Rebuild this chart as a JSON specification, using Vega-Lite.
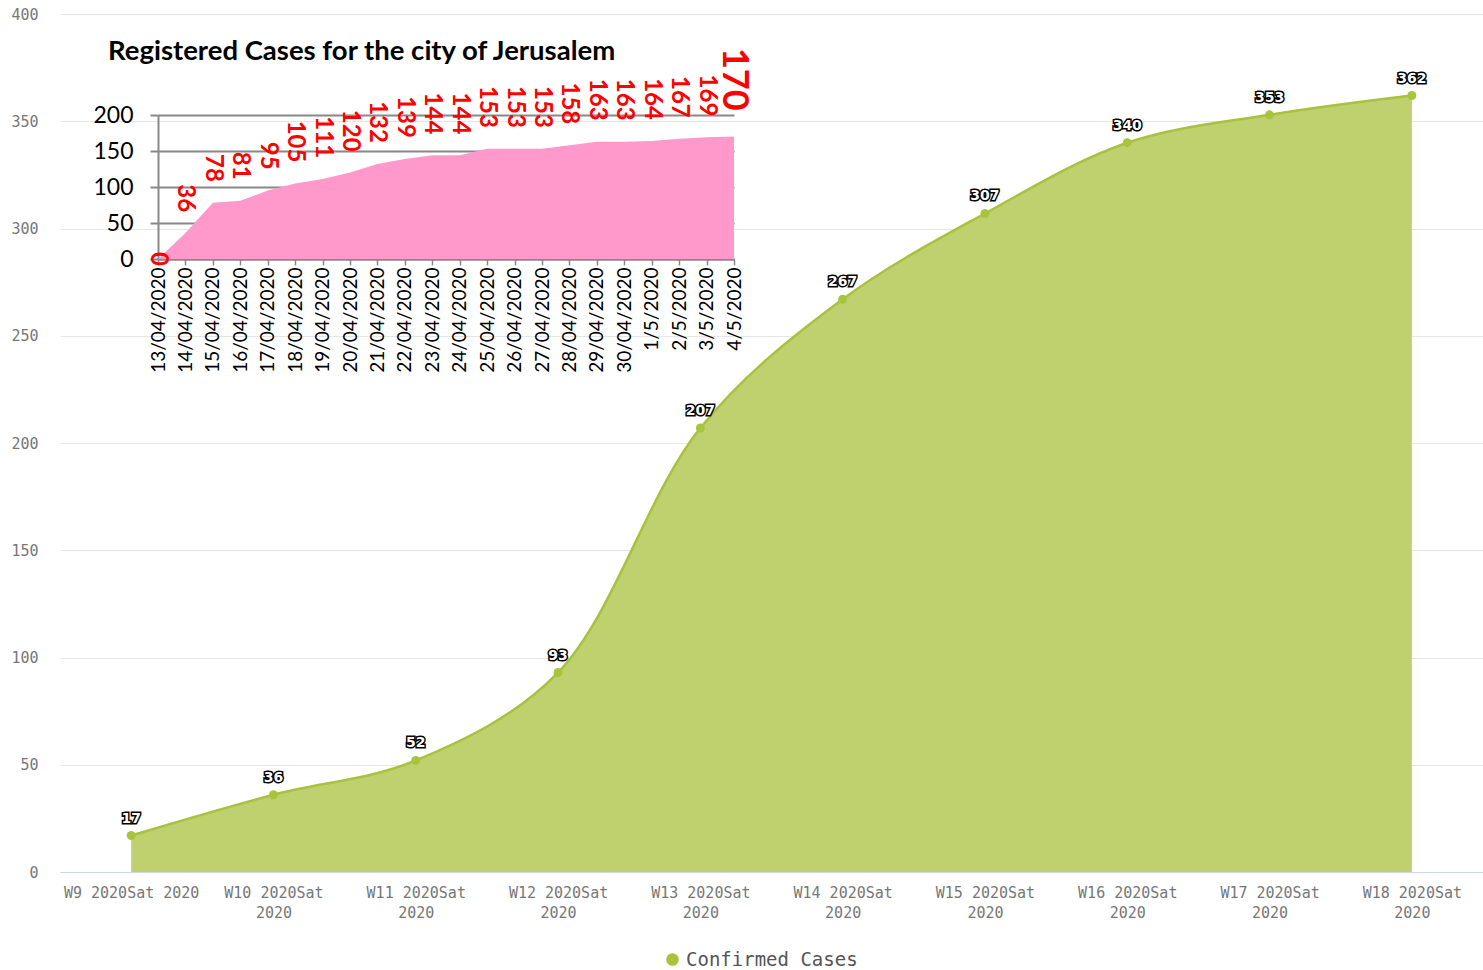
{
  "$schema": "https://vega.github.io/schema/vega-lite/v6.json",
  "width": 1423,
  "height": 858,
  "autosize": {"type": "none"},
  "padding": {"left": 60, "top": 14, "right": 0, "bottom": 98},
  "background": "white",
  "title": {"text": "Registered Cases for the city of Jerusalem", "anchor": "start", "frame": "group", "orient": "top", "dx": 48, "dy": 80, "offset": 0, "font": "Lato", "fontSize": 27.5, "fontWeight": "bold", "color": "#000000", "baseline": "alphabetic"},
  "config": {
    "view": {"stroke": null},
    "legend": {"orient": "none", "legendX": 603, "legendY": 936, "padding": 0, "symbolType": "circle", "symbolSize": 160, "labelFont": "DejaVu Sans Mono", "labelFontSize": 19, "labelLimit": 400, "labelColor": "#555555", "title": null}
  },
  "layer": [
    {
      "data": {"values": [
        {"week": "W9 2020Sat 2020", "confirmed": 17},
        {"week": "W10 2020Sat 2020", "confirmed": 36},
        {"week": "W11 2020Sat 2020", "confirmed": 52},
        {"week": "W12 2020Sat 2020", "confirmed": 93},
        {"week": "W13 2020Sat 2020", "confirmed": 207},
        {"week": "W14 2020Sat 2020", "confirmed": 267},
        {"week": "W15 2020Sat 2020", "confirmed": 307},
        {"week": "W16 2020Sat 2020", "confirmed": 340},
        {"week": "W17 2020Sat 2020", "confirmed": 353},
        {"week": "W18 2020Sat 2020", "confirmed": 362}
      ]},
      "encoding": {
        "x": {"field": "week", "type": "ordinal", "sort": null, "scale": {"type": "point", "padding": 0.5},
          "axis": {"orient": "bottom", "title": null, "labelAngle": 0, "labelFont": "DejaVu Sans Mono", "labelFontSize": 15, "labelColor": "#777777", "ticks": false, "domainColor": "#ccd6eb", "labelPadding": 13, "labelLineHeight": 20, "grid": false,
            "labelExpr": "datum.value == 'W9 2020Sat 2020' ? datum.value : [slice(datum.value, 0, lastindexof(datum.value, ' ')), slice(datum.value, lastindexof(datum.value, ' ') + 1)]"}},
        "y": {"field": "confirmed", "type": "quantitative", "scale": {"domain": [0, 400], "nice": false},
          "axis": {"orient": "left", "title": null, "values": [0, 50, 100, 150, 200, 250, 300, 350, 400], "labelFont": "DejaVu Sans Mono", "labelFontSize": 15, "labelColor": "#777777", "ticks": false, "domain": false, "labelPadding": 22, "gridColor": "#e6e6e6", "grid": true}}
      },
      "layer": [
        {"mark": {"type": "area", "interpolate": "catmull-rom", "color": "#bfd06e", "opacity": 1}},
        {"mark": {"type": "line", "interpolate": "catmull-rom", "color": "#a9c13c", "strokeWidth": 2.5}},
        {"mark": {"type": "point", "filled": true, "size": 80, "opacity": 1},
          "encoding": {"color": {"datum": "Confirmed Cases", "type": "nominal", "scale": {"range": ["#a8c43c"]}}}},
        {"mark": {"type": "text", "font": "DejaVu Sans", "fontWeight": "bold", "fontSize": 14, "dy": -17, "stroke": "#000000", "strokeWidth": 3, "fill": "#000000"},
          "encoding": {"text": {"field": "confirmed", "type": "quantitative"}}},
        {"mark": {"type": "text", "font": "DejaVu Sans", "fontWeight": "bold", "fontSize": 14, "dy": -17, "fill": "#ffffff"},
          "encoding": {"text": {"field": "confirmed", "type": "quantitative"}}}
      ]
    },
    {
      "data": {"values": [
        {"day": "2020-04-13T00:00:00", "cases": 0},
        {"day": "2020-04-14T00:00:00", "cases": 36},
        {"day": "2020-04-15T00:00:00", "cases": 78},
        {"day": "2020-04-16T00:00:00", "cases": 81},
        {"day": "2020-04-17T00:00:00", "cases": 95},
        {"day": "2020-04-18T00:00:00", "cases": 105},
        {"day": "2020-04-19T00:00:00", "cases": 111},
        {"day": "2020-04-20T00:00:00", "cases": 120},
        {"day": "2020-04-21T00:00:00", "cases": 132},
        {"day": "2020-04-22T00:00:00", "cases": 139},
        {"day": "2020-04-23T00:00:00", "cases": 144},
        {"day": "2020-04-24T00:00:00", "cases": 144},
        {"day": "2020-04-25T00:00:00", "cases": 153},
        {"day": "2020-04-26T00:00:00", "cases": 153},
        {"day": "2020-04-27T00:00:00", "cases": 153},
        {"day": "2020-04-28T00:00:00", "cases": 158},
        {"day": "2020-04-29T00:00:00", "cases": 163},
        {"day": "2020-04-30T00:00:00", "cases": 163},
        {"day": "2020-05-01T00:00:00", "cases": 164},
        {"day": "2020-05-02T00:00:00", "cases": 167},
        {"day": "2020-05-03T00:00:00", "cases": 169},
        {"day": "2020-05-04T00:00:00", "cases": 170}
      ]},
      "encoding": {
        "x": {"field": "day", "type": "temporal", "scale": {"range": [98, 674], "nice": false},
          "axis": {"orient": "bottom", "offset": -613, "title": null, "grid": false, "tickCount": {"interval": "day", "step": 1}, "labelAngle": 270, "labelAlign": "right", "labelBaseline": "middle", "labelOverlap": false, "labelFlush": false, "labelFont": "Lato", "labelFontSize": 19, "labelColor": "#000000", "tickSize": 6, "tickColor": "#888888", "tickWidth": 1.5, "domainColor": "#888888", "domainWidth": 2, "labelPadding": 2,
            "labelExpr": "month(datum.value) == 3 ? timeFormat(datum.value, '%d/%m/%Y') : timeFormat(datum.value, '%-d/%-m/%Y')"}},
        "y": {"field": "cases", "type": "quantitative", "scale": {"domain": [0, 200], "range": [245, 101], "nice": false},
          "axis": {"orient": "left", "offset": -98, "title": null, "values": [0, 50, 100, 150, 200], "grid": true, "gridColor": "#888888", "gridWidth": 2, "labelFont": "Lato", "labelFontSize": 23, "labelColor": "#000000", "tickSize": 8, "tickColor": "#888888", "tickWidth": 2, "domainColor": "#888888", "domainWidth": 2, "labelPadding": 17}}
      },
      "layer": [
        {"mark": {"type": "area", "color": "#ff99cc", "opacity": 1}},
        {"transform": [{"filter": "datum.cases > 0 && datum.cases < 170"}],
          "mark": {"type": "text", "font": "Lato", "fontWeight": "bold", "fontSize": 24, "angle": 90, "align": "right", "baseline": "middle", "dx": -21, "color": "#ff0000"},
          "encoding": {"text": {"field": "cases", "type": "quantitative"}}},
        {"transform": [{"filter": "datum.cases == 0"}],
          "mark": {"type": "text", "font": "Lato", "fontWeight": "bold", "fontSize": 24, "angle": 90, "align": "center", "baseline": "middle", "color": "#ff0000"},
          "encoding": {"text": {"field": "cases", "type": "quantitative"}}},
        {"transform": [{"filter": "datum.cases == 170"}],
          "mark": {"type": "text", "font": "Lato", "fontWeight": "bold", "fontSize": 36, "angle": 90, "align": "right", "baseline": "middle", "dx": -26, "color": "#ff0000"},
          "encoding": {"text": {"field": "cases", "type": "quantitative"}}}
      ]
    }
  ],
  "resolve": {"scale": {"x": "independent", "y": "independent"}, "axis": {"x": "independent", "y": "independent"}}
}
